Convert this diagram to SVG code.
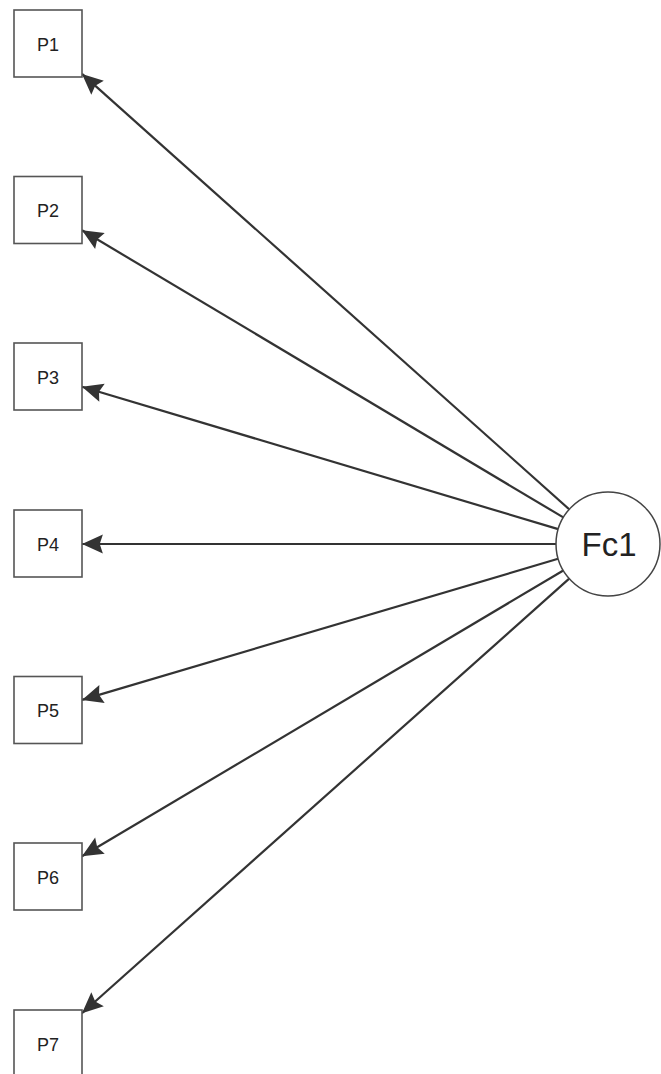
<svg xmlns="http://www.w3.org/2000/svg" width="661" height="1074" viewBox="0 0 661 1074">
<style>
.box{fill:#fff;stroke:#555;stroke-width:1.6}
.lbl{font-family:"Liberation Sans",Arial,sans-serif;font-size:18px;fill:#222;text-anchor:middle}
.big{font-family:"Liberation Sans",Arial,sans-serif;font-size:33px;fill:#222;text-anchor:middle}
.edge{stroke:#333;stroke-width:2.2;fill:none;marker-end:url(#ah)}
</style>
<defs>
<marker id="ah" markerUnits="userSpaceOnUse" markerWidth="24" markerHeight="22" viewBox="-22 -10 23 20" refX="0" refY="0" orient="auto">
<path d="M0,0 L-20,-9 L-17,0 L-20,9 Z" fill="#333"/>
</marker>
</defs>
<rect width="661" height="1074" fill="#fff"/>
<g id="connectors">
<line class="edge" x1="569.2" y1="509.3" x2="82" y2="73.9"/>
<line class="edge" x1="563.3" y1="517.4" x2="82" y2="230.3"/>
<line class="edge" x1="558.2" y1="529.1" x2="82" y2="386.7"/>
<line class="edge" x1="556" y1="544" x2="82" y2="544"/>
<line class="edge" x1="558.1" y1="558.8" x2="82" y2="699.9"/>
<line class="edge" x1="563.3" y1="570.5" x2="82" y2="856.3"/>
<line class="edge" x1="569.2" y1="578.6" x2="82" y2="1013.2"/>
</g>
<g id="P1"><rect class="box" x="14" y="10" width="68" height="67"/><text class="lbl" x="48" y="50.5">P1</text></g>
<g id="P2"><rect class="box" x="14" y="176.5" width="68" height="67"/><text class="lbl" x="48" y="217">P2</text></g>
<g id="P3"><rect class="box" x="14" y="343" width="68" height="67"/><text class="lbl" x="48" y="383.5">P3</text></g>
<g id="P4"><rect class="box" x="14" y="510" width="68" height="67"/><text class="lbl" x="48" y="550.5">P4</text></g>
<g id="P5"><rect class="box" x="14" y="676.5" width="68" height="67"/><text class="lbl" x="48" y="717">P5</text></g>
<g id="P6"><rect class="box" x="14" y="843" width="68" height="67"/><text class="lbl" x="48" y="883.5">P6</text></g>
<g id="P7"><rect class="box" x="14" y="1010" width="68" height="67"/><text class="lbl" x="48" y="1050.5">P7</text></g>
<g id="Fc1"><circle cx="608" cy="544" r="52" fill="#fff" stroke="#444" stroke-width="1.5"/><text class="big" x="609" y="556">Fc1</text></g>
</svg>
